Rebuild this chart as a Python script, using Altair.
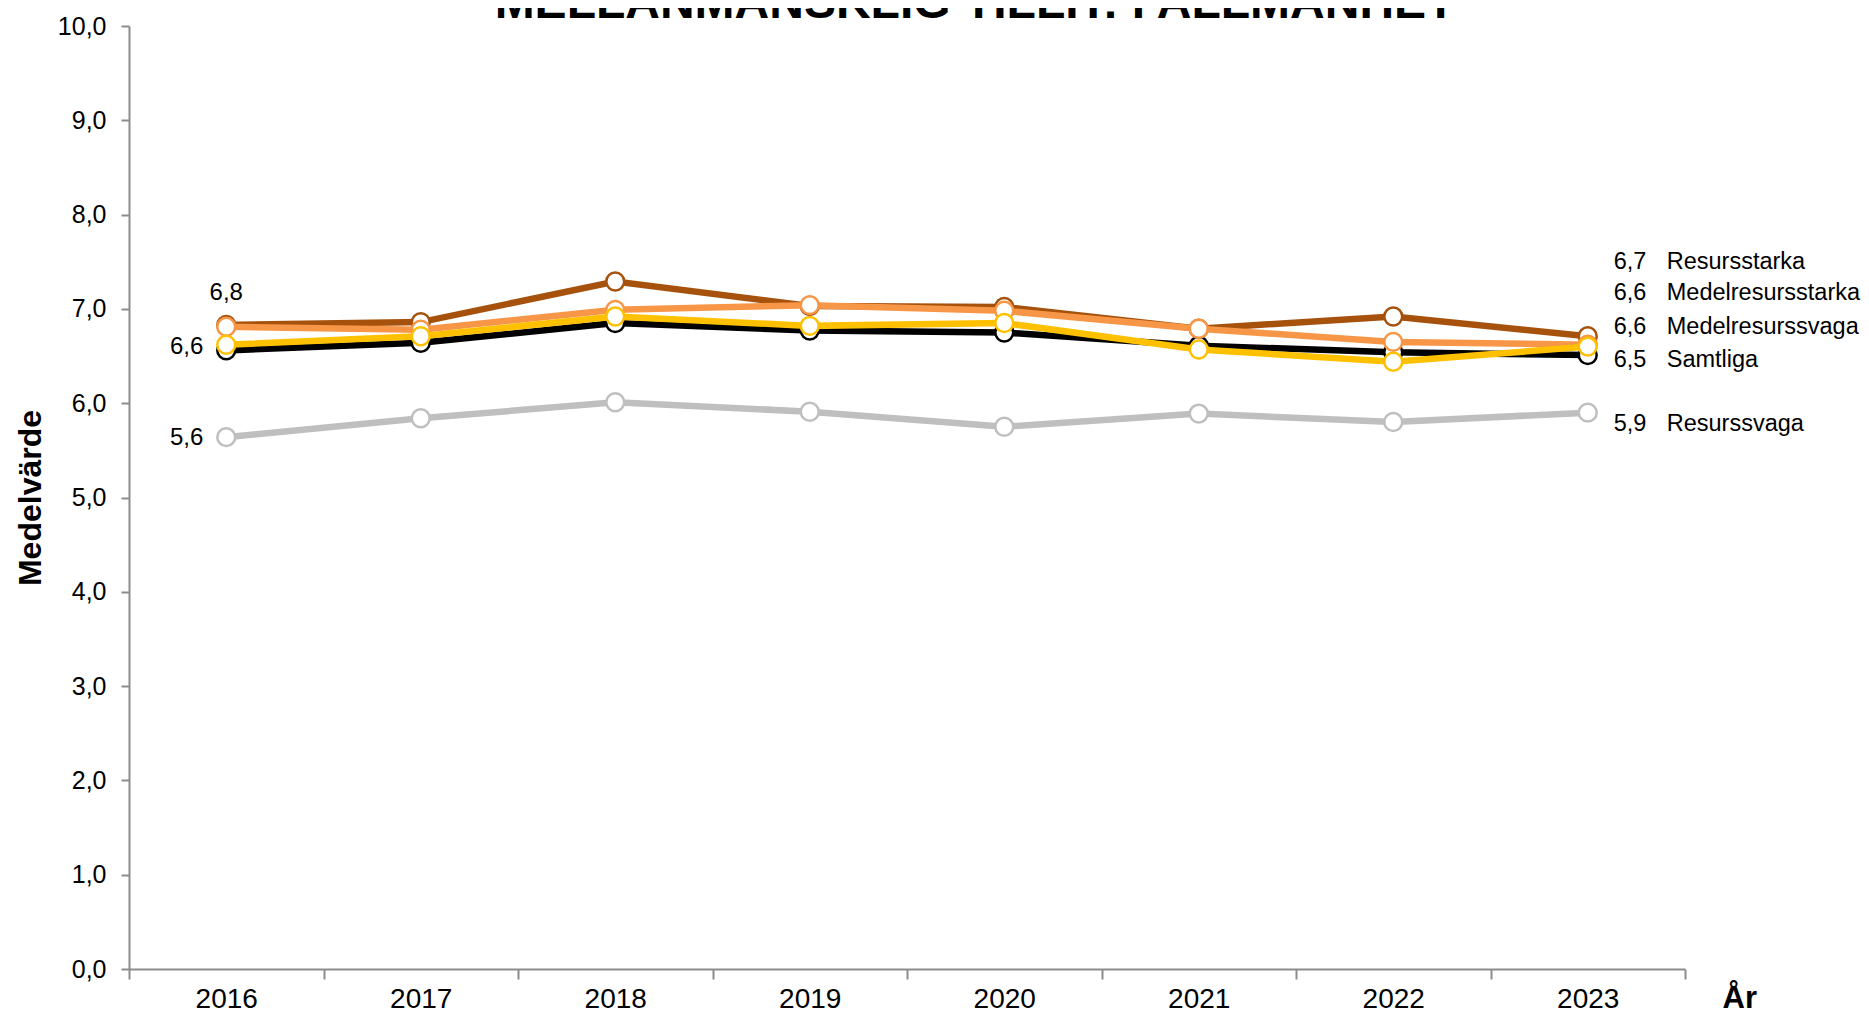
import altair as alt
import pandas as pd

# ---- data ----
YEARS = [2016, 2017, 2018, 2019, 2020, 2021, 2022, 2023]
RESURSSTARKA = [6.83, 6.86, 7.29, 7.03, 7.02, 6.79, 6.92, 6.71]
MEDELRESURSSTARKA = [6.81, 6.78, 6.99, 7.04, 6.98, 6.79, 6.65, 6.62]
MEDELRESURSSVAGA = [6.62, 6.71, 6.92, 6.82, 6.85, 6.57, 6.44, 6.60]
SAMTLIGA = [6.56, 6.64, 6.85, 6.77, 6.75, 6.61, 6.54, 6.51]
RESURSSVAGA = [5.64, 5.84, 6.01, 5.91, 5.75, 5.89, 5.80, 5.90]

SERIES = ["Resursstarka", "Medelresursstarka", "Medelresurssvaga", "Samtliga", "Resurssvaga"]
VALUES = {
    "Resursstarka": RESURSSTARKA,
    "Medelresursstarka": MEDELRESURSSTARKA,
    "Medelresurssvaga": MEDELRESURSSVAGA,
    "Samtliga": SAMTLIGA,
    "Resurssvaga": RESURSSVAGA,
}
TITLE = "MELLANMÄNSKLIG TILLIT: I ALLMÄNHET"

# ---- styles ----
COLORS = {
    "Resursstarka": "#A6520D",
    "Medelresursstarka": "#F79646",
    "Medelresurssvaga": "#FFC000",
    "Samtliga": "#000000",
    "Resurssvaga": "#BFBFBF",
}
DRAW_ORDER = ["Resurssvaga", "Samtliga", "Resursstarka", "Medelresursstarka", "Medelresurssvaga"]
RIGHT_LABEL_NUDGE = {
    "Resursstarka": -74,
    "Medelresursstarka": -52,
    "Medelresurssvaga": -20,
    "Samtliga": 5,
    "Resurssvaga": 11,
}
FONT = "Liberation Sans"
AXIS_GREY = "#8C8C8C"
PLOT_W, PLOT_H = 1556, 943

rows = []
for s in SERIES:
    for yr, v in zip(YEARS, VALUES[s]):
        rows.append({"series": s, "year": str(yr), "value": v})
df = pd.DataFrame(rows)

base = alt.Chart(df).transform_calculate(
    label="replace(format(datum.value, '.1f'), '.', ',')"
)

x_enc = alt.X(
    "year:O",
    bandPosition=0.5,
    scale=alt.Scale(type="band", paddingInner=0, paddingOuter=0),
    axis=alt.Axis(
        title="År",
        tickBand="extent",
        tickSize=10,
        tickWidth=2,
        tickColor=AXIS_GREY,
        domainColor=AXIS_GREY,
        domainWidth=2,
        labelAngle=0,
        labelFont=FONT,
        labelFontSize=28,
        labelColor="black",
        labelPadding=6,
        titleFont=FONT,
        titleFontSize=31,
        titleFontWeight="bold",
        titleColor="black",
        titleAlign="left",
        titleBaseline="alphabetic",
        titleX=1593,
        titleY=38,
    ),
)
y_enc = alt.Y(
    "value:Q",
    scale=alt.Scale(domain=[0, 10], nice=False, zero=True),
    axis=alt.Axis(
        values=list(range(11)),
        labelExpr="replace(format(datum.value, '.1f'), '.', ',')",
        title="Medelvärde",
        titleFont=FONT,
        titleFontSize=32,
        titleFontWeight="bold",
        titleColor="black",
        titlePadding=10,
        grid=False,
        tickSize=8,
        tickWidth=2,
        tickColor=AXIS_GREY,
        domainColor=AXIS_GREY,
        domainWidth=2,
        labelFont=FONT,
        labelFontSize=25,
        labelColor="black",
        labelPadding=15,
    ),
)

layers = []
for s in DRAW_ORDER:
    sub = base.transform_filter(alt.datum.series == s)
    layers.append(
        sub.mark_line(color=COLORS[s], strokeWidth=6.5).encode(x=x_enc, y=y_enc)
    )
    layers.append(
        sub.mark_circle(
            fill="white", stroke=COLORS[s], strokeWidth=2.5, size=320, opacity=1, fillOpacity=1
        ).encode(x=x_enc, y=y_enc)
    )

# left data labels (first year)
first = base.transform_filter(alt.datum.year == str(YEARS[0]))
layers.append(
    first.transform_filter(alt.datum.series == "Resursstarka")
    .mark_text(font=FONT, fontSize=24, color="black", dy=-32, baseline="middle")
    .encode(x=x_enc, y=y_enc, text="label:N")
)
layers.append(
    first.transform_filter(alt.datum.series == "Samtliga")
    .mark_text(font=FONT, fontSize=24, color="black", align="right", dx=-23, dy=-3, baseline="middle")
    .encode(x=x_enc, y=y_enc, text="label:N")
)
layers.append(
    first.transform_filter(alt.datum.series == "Resurssvaga")
    .mark_text(font=FONT, fontSize=24, color="black", align="right", dx=-23, dy=1, baseline="middle")
    .encode(x=x_enc, y=y_enc, text="label:N")
)

# right labels (last year): value + series name
last = base.transform_filter(alt.datum.year == str(YEARS[-1]))
for s in SERIES:
    ls = last.transform_filter(alt.datum.series == s)
    layers.append(
        ls.mark_text(font=FONT, fontSize=23.5, color="black", align="left", dx=26,
                     dy=RIGHT_LABEL_NUDGE[s], baseline="middle")
        .encode(x=x_enc, y=y_enc, text="label:N")
    )
    layers.append(
        ls.mark_text(font=FONT, fontSize=23.5, color="black", align="left", dx=79,
                     dy=RIGHT_LABEL_NUDGE[s], baseline="middle")
        .encode(x=x_enc, y=y_enc, text="series:N")
    )

# chart title (partly above the top edge, as in the reference)
title_layer = alt.Chart(pd.DataFrame({"t": [TITLE]})).mark_text(
    font=FONT, fontSize=48, fontWeight="bold", color="black",
    align="center", baseline="alphabetic",
).encode(text="t:N", x=alt.value(PLOT_W / 2 + 68), y=alt.value(-8))
layers.append(title_layer)

chart = alt.layer(*layers).properties(
    width=PLOT_W,
    height=PLOT_H,
    padding={"left": 121, "top": 18, "right": 176, "bottom": 44},
    autosize="none",
    background="white",
).configure_view(stroke=None)

chart.save("out.html", embed_options={"renderer": "svg", "actions": False})
